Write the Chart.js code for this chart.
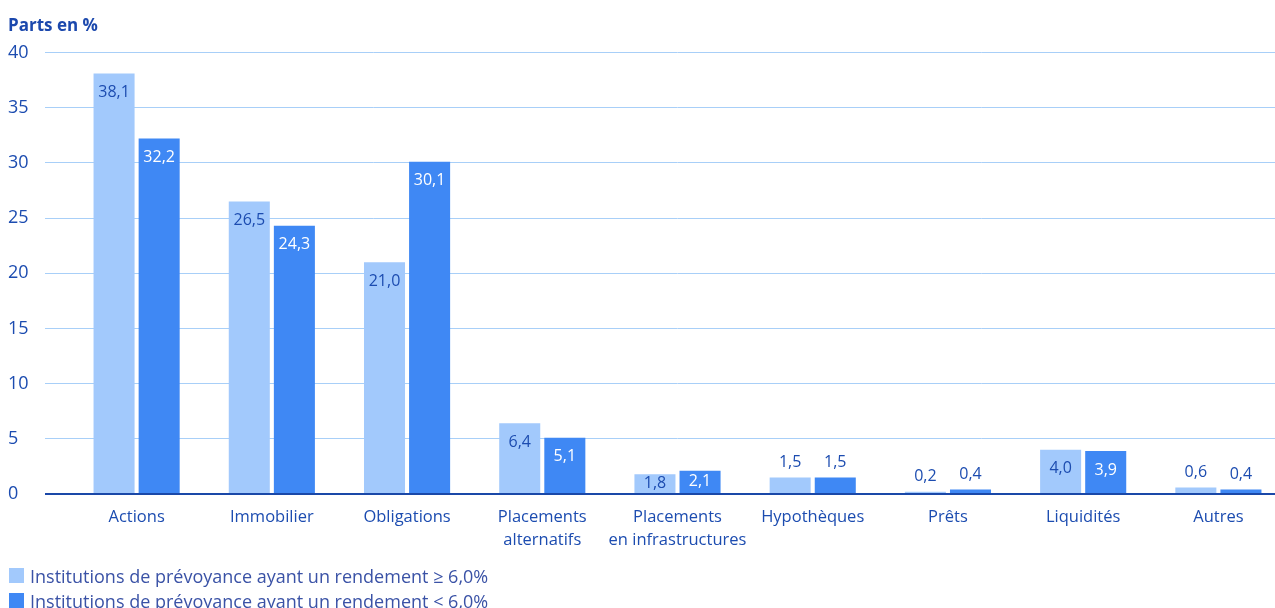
<!DOCTYPE html>
<html lang="fr">
<head>
<meta charset="utf-8">
<script src="https://cdn.jsdelivr.net/npm/chart.js@4.4.1/dist/chart.umd.min.js"></script>
<style>
  html, body { margin: 0; padding: 0; background: #fff; overflow: hidden; }
  #wrap { position: relative; width: 1290px; height: 608px; }
  #legend { position: absolute; left: 9px; top: 563px; font-family: "Open Sans", sans-serif; font-size: 18px; color: #3a52a6; }
  #legend .row { display: flex; align-items: center; height: 25px; white-space: nowrap; }
  #legend .box { width: 15px; height: 15px; margin-right: 6px; }
</style>
</head>
<body>
<div id="wrap">
  <canvas id="chart"></canvas>
  <div id="legend"></div>
</div>
<script>
const categories = [
    'Actions', 'Immobilier', 'Obligations', ['Placements', 'alternatifs'],
    ['Placements', 'en infrastructures'], 'Hypothèques', 'Prêts', 'Liquidités', 'Autres'
];
const highReturn = [38.1, 26.5, 21.0, 6.4, 1.8, 1.5, 0.2, 4.0, 0.6];
const lowReturn = [32.2, 24.3, 30.1, 5.1, 2.1, 1.5, 0.4, 3.9, 0.4];
const seriesNames = [
    'Institutions de prévoyance ayant un rendement ≥ 6,0%',
    'Institutions de prévoyance ayant un rendement < 6,0%'
];
const yTicks = [0, 5, 10, 15, 20, 25, 30, 35, 40];

const textBlue = '#1c4cb0';
const gridBlue = '#a8cff8';
const lightBar = '#a2c9fc';
const darkBar = '#3f88f4';

// value labels: inside the bar top when tall enough, above it otherwise
const barLabels = {
    id: 'barLabels',
    afterDatasetsDraw(chart) {
        const ctx = chart.ctx;
        ctx.save();
        ctx.font = '16px "Open Sans", sans-serif';
        ctx.textAlign = 'center';
        ctx.textBaseline = 'middle';
        chart.data.datasets.forEach((ds, i) => {
            chart.getDatasetMeta(i).data.forEach((bar, j) => {
                const v = ds.data[j];
                const txt = v.toFixed(1).replace('.', ',');
                let y, color;
                if (v >= 1.8) {
                    y = Math.min(bar.y + 19, (bar.y + bar.base) / 2);
                    color = i === 0 ? textBlue : '#ffffff';
                } else {
                    y = bar.y - 15;
                    color = textBlue;
                }
                ctx.fillStyle = color;
                ctx.fillText(txt, bar.x, y);
            });
        });
        ctx.restore();
    }
};

const ctx = document.getElementById('chart').getContext('2d');

const chart = new Chart(ctx, {
    type: 'bar',
    data: {
        labels: categories,
        datasets: [{
            label: seriesNames[0],
            data: highReturn,
            backgroundColor: lightBar,
            categoryPercentage: 0.667,
            barPercentage: 0.91
        }, {
            label: seriesNames[1],
            data: lowReturn,
            backgroundColor: darkBar,
            categoryPercentage: 0.667,
            barPercentage: 0.91
        }]
    },
    options: {
        responsive: true,
        maintainAspectRatio: false,
        animation: false,
        layout: { padding: { left: 8, right: 4, top: 0, bottom: 0 } },
        scales: {
            x: {
                grid: { display: false, drawTicks: false },
                border: { display: false },
                ticks: {
                    color: textBlue,
                    font: { family: '"Open Sans", sans-serif', size: 16.5, lineHeight: 1.4 },
                    padding: 12,
                    autoSkip: false,
                    maxRotation: 0
                },
                afterFit: (scale) => { scale.height = 114; }
            },
            y: {
                min: 0,
                max: 40,
                afterBuildTicks: (scale) => { scale.ticks = yTicks.map(v => ({ value: v })); },
                border: { display: false },
                grid: {
                    color: (c) => c.tick && c.tick.value === 0 ? '#1a48a8' : gridBlue,
                    lineWidth: (c) => c.tick && c.tick.value === 0 ? 2 : 1,
                    tickLength: 24
                },
                ticks: {
                    color: textBlue,
                    crossAlign: 'far',
                    font: { family: '"Open Sans", sans-serif', size: 18 }
                },
                afterFit: (scale) => { scale.width = 61; }
            }
        },
        plugins: {
            legend: { display: false },
            tooltip: { enabled: false },
            title: {
                display: true,
                text: 'Parts en %',
                align: 'start',
                color: '#1b48ad',
                font: { family: '"Open Sans", sans-serif', size: 17, weight: 'bold' },
                padding: { top: 16, bottom: 16 }
            }
        }
    },
    plugins: [barLabels]
});

// legend listed below the chart, one row per series
const legendEl = document.getElementById('legend');
chart.data.datasets.forEach(ds => {
    const row = document.createElement('div');
    row.className = 'row';
    const box = document.createElement('span');
    box.className = 'box';
    box.style.background = ds.backgroundColor;
    const label = document.createElement('span');
    label.textContent = ds.label;
    row.appendChild(box);
    row.appendChild(label);
    legendEl.appendChild(row);
});
</script>
</body>
</html>
